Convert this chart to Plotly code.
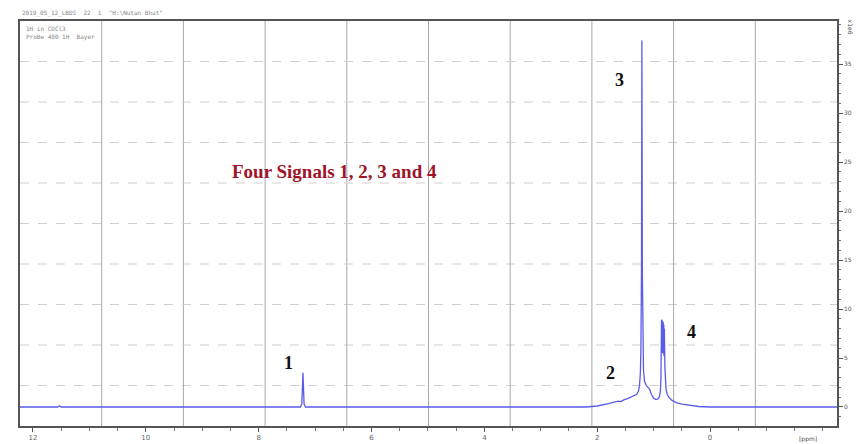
import plotly.graph_objects as go

# Spectrum (chemical shift in ppm, intensity in axis units)
ppm = [12.23, 11.56, 11.53, 11.50, 7.26, 7.235, 7.215, 7.195, 7.17,
       2.2, 2.0, 1.9, 1.8, 1.7, 1.62, 1.58, 1.52, 1.46, 1.40, 1.35, 1.30,
       1.27, 1.25, 1.235, 1.225, 1.215, 1.208, 1.20, 1.19, 1.18, 1.16,
       1.13, 1.10, 1.07, 1.04, 1.00, 0.96, 0.93, 0.90, 0.88, 0.87,
       0.86, 0.855, 0.85, 0.845, 0.84, 0.835, 0.83, 0.825, 0.82, 0.815, 0.81,
       0.80, 0.79, 0.78, 0.76, 0.73,
       0.68, 0.60, 0.50, 0.40, 0.30, 0.20, 0.0, -2.25]
intensity = [0.0, 0.0, 0.12, 0.0, 0.0, 0.3, 3.5, 0.3, 0.0,
             0.0, 0.1, 0.2, 0.35, 0.5, 0.6, 0.55, 0.75, 0.85, 1.0, 1.15, 1.3,
             1.6, 2.2, 3.5, 6.0, 14.0, 37.4, 14.0, 6.0, 3.8, 2.6,
             2.2, 2.0, 1.8, 1.3, 0.9, 0.75, 0.8, 1.0, 1.6, 3.0,
             8.9, 5.6, 8.8, 5.5, 8.7, 5.5, 8.6, 5.4, 8.4, 5.2, 8.0,
             4.0, 2.5, 1.8, 1.3, 1.0,
             0.7, 0.45, 0.3, 0.2, 0.1, 0.05, 0.0, 0.0]

x_ticks = [12, 10, 8, 6, 4, 2, 0]
y_ticks = [0, 5, 10, 15, 20, 25, 30, 35]

peak_labels = ["1", "2", "3", "4"]
peak_label_ppm = [7.48, 1.77, 1.61, 0.32]
peak_label_int = [4.5, 3.47, 33.4, 7.65]

title_text = "Four Signals 1, 2, 3 and 4"

fig = go.Figure()
fig.add_trace(go.Scatter(x=ppm, y=intensity, mode="lines",
                         line=dict(color="#5b5bea", width=1.3),
                         hoverinfo="skip", showlegend=False))

# 10x10 frame grid
shapes = []
for k in range(1, 10):
    shapes.append(dict(type="line", xref="paper", yref="paper", x0=k / 10, x1=k / 10,
                       y0=0, y1=1, line=dict(color="#a8a8a8", width=1), layer="below"))
    shapes.append(dict(type="line", xref="paper", yref="paper", x0=0, x1=1,
                       y0=k / 10, y1=k / 10, line=dict(color="#cfcfcf", width=1, dash="dash"),
                       layer="below"))

annotations = []
for t, xv, yv in zip(peak_labels, peak_label_ppm, peak_label_int):
    annotations.append(dict(x=xv, y=yv, xref="x", yref="y", text="<b>%s</b>" % t,
                            showarrow=False,
                            font=dict(family="Liberation Serif", size=18, color="#111111")))
annotations.append(dict(x=6.65, y=24.0, xref="x", yref="y", text="<b>%s</b>" % title_text,
                        showarrow=False,
                        font=dict(family="Liberation Serif", size=19, color="#a0142a")))
annotations.append(dict(x=0.0, y=1.0, xref="paper", yref="paper", xanchor="left",
                        yanchor="bottom", yshift=2,
                        text='2019_05_12_LBDS  22  1  "H:\\Nutan Bhat"', showarrow=False,
                        font=dict(family="DejaVu Sans Mono", size=6, color="#888888")))
annotations.append(dict(x=0.005, y=0.995, xref="paper", yref="paper", xanchor="left",
                        yanchor="top", align="left",
                        text="1H in CDCl3<br>ProBe 400 1H  Bayer", showarrow=False,
                        font=dict(family="DejaVu Sans Mono", size=6, color="#888888")))
annotations.append(dict(x=1.0, y=0.985, xref="paper", yref="paper", xanchor="left",
                        yanchor="middle", xshift=8, textangle=90,
                        text="x1e6", showarrow=False,
                        font=dict(family="DejaVu Sans", size=6, color="#444444")))
annotations.append(dict(x=0.965, y=0, xref="paper", yref="paper", xanchor="center",
                        yanchor="top", yshift=-7, text="[ppm]", showarrow=False,
                        font=dict(family="DejaVu Sans", size=6, color="#444444")))

fig.update_layout(
    width=862, height=444,
    margin=dict(l=20, r=25, t=21, b=18, autoexpand=False),
    paper_bgcolor="white", plot_bgcolor="white",
    shapes=shapes, annotations=annotations,
    xaxis=dict(range=[12.23, -2.25], tickvals=x_ticks, ticktext=[str(v) for v in x_ticks],
               ticks="outside", ticklen=4, tickcolor="#555", showgrid=False, zeroline=False,
               showline=True, linecolor="#555", linewidth=1.5, mirror=True, automargin=False,
               tickfont=dict(family="DejaVu Sans", size=7, color="#666666"),
               minor=dict(dtick=0.5, ticks="outside", ticklen=3, tickcolor="#777")),
    yaxis=dict(range=[-1.94, 39.4], side="right", tickvals=y_ticks,
               ticktext=[str(v) for v in y_ticks], ticks="outside", ticklen=4,
               tickcolor="#555", showgrid=False, zeroline=False, automargin=False,
               showline=True, linecolor="#555", linewidth=1.5, mirror=True,
               tickfont=dict(family="DejaVu Sans", size=6, color="#555555"),
               minor=dict(dtick=1, ticks="outside", ticklen=2, tickcolor="#777")),
)

fig.write_html("out.html", config={"displayModeBar": False},
               post_script="document.body.style.margin='0';document.body.style.overflow='hidden';")
